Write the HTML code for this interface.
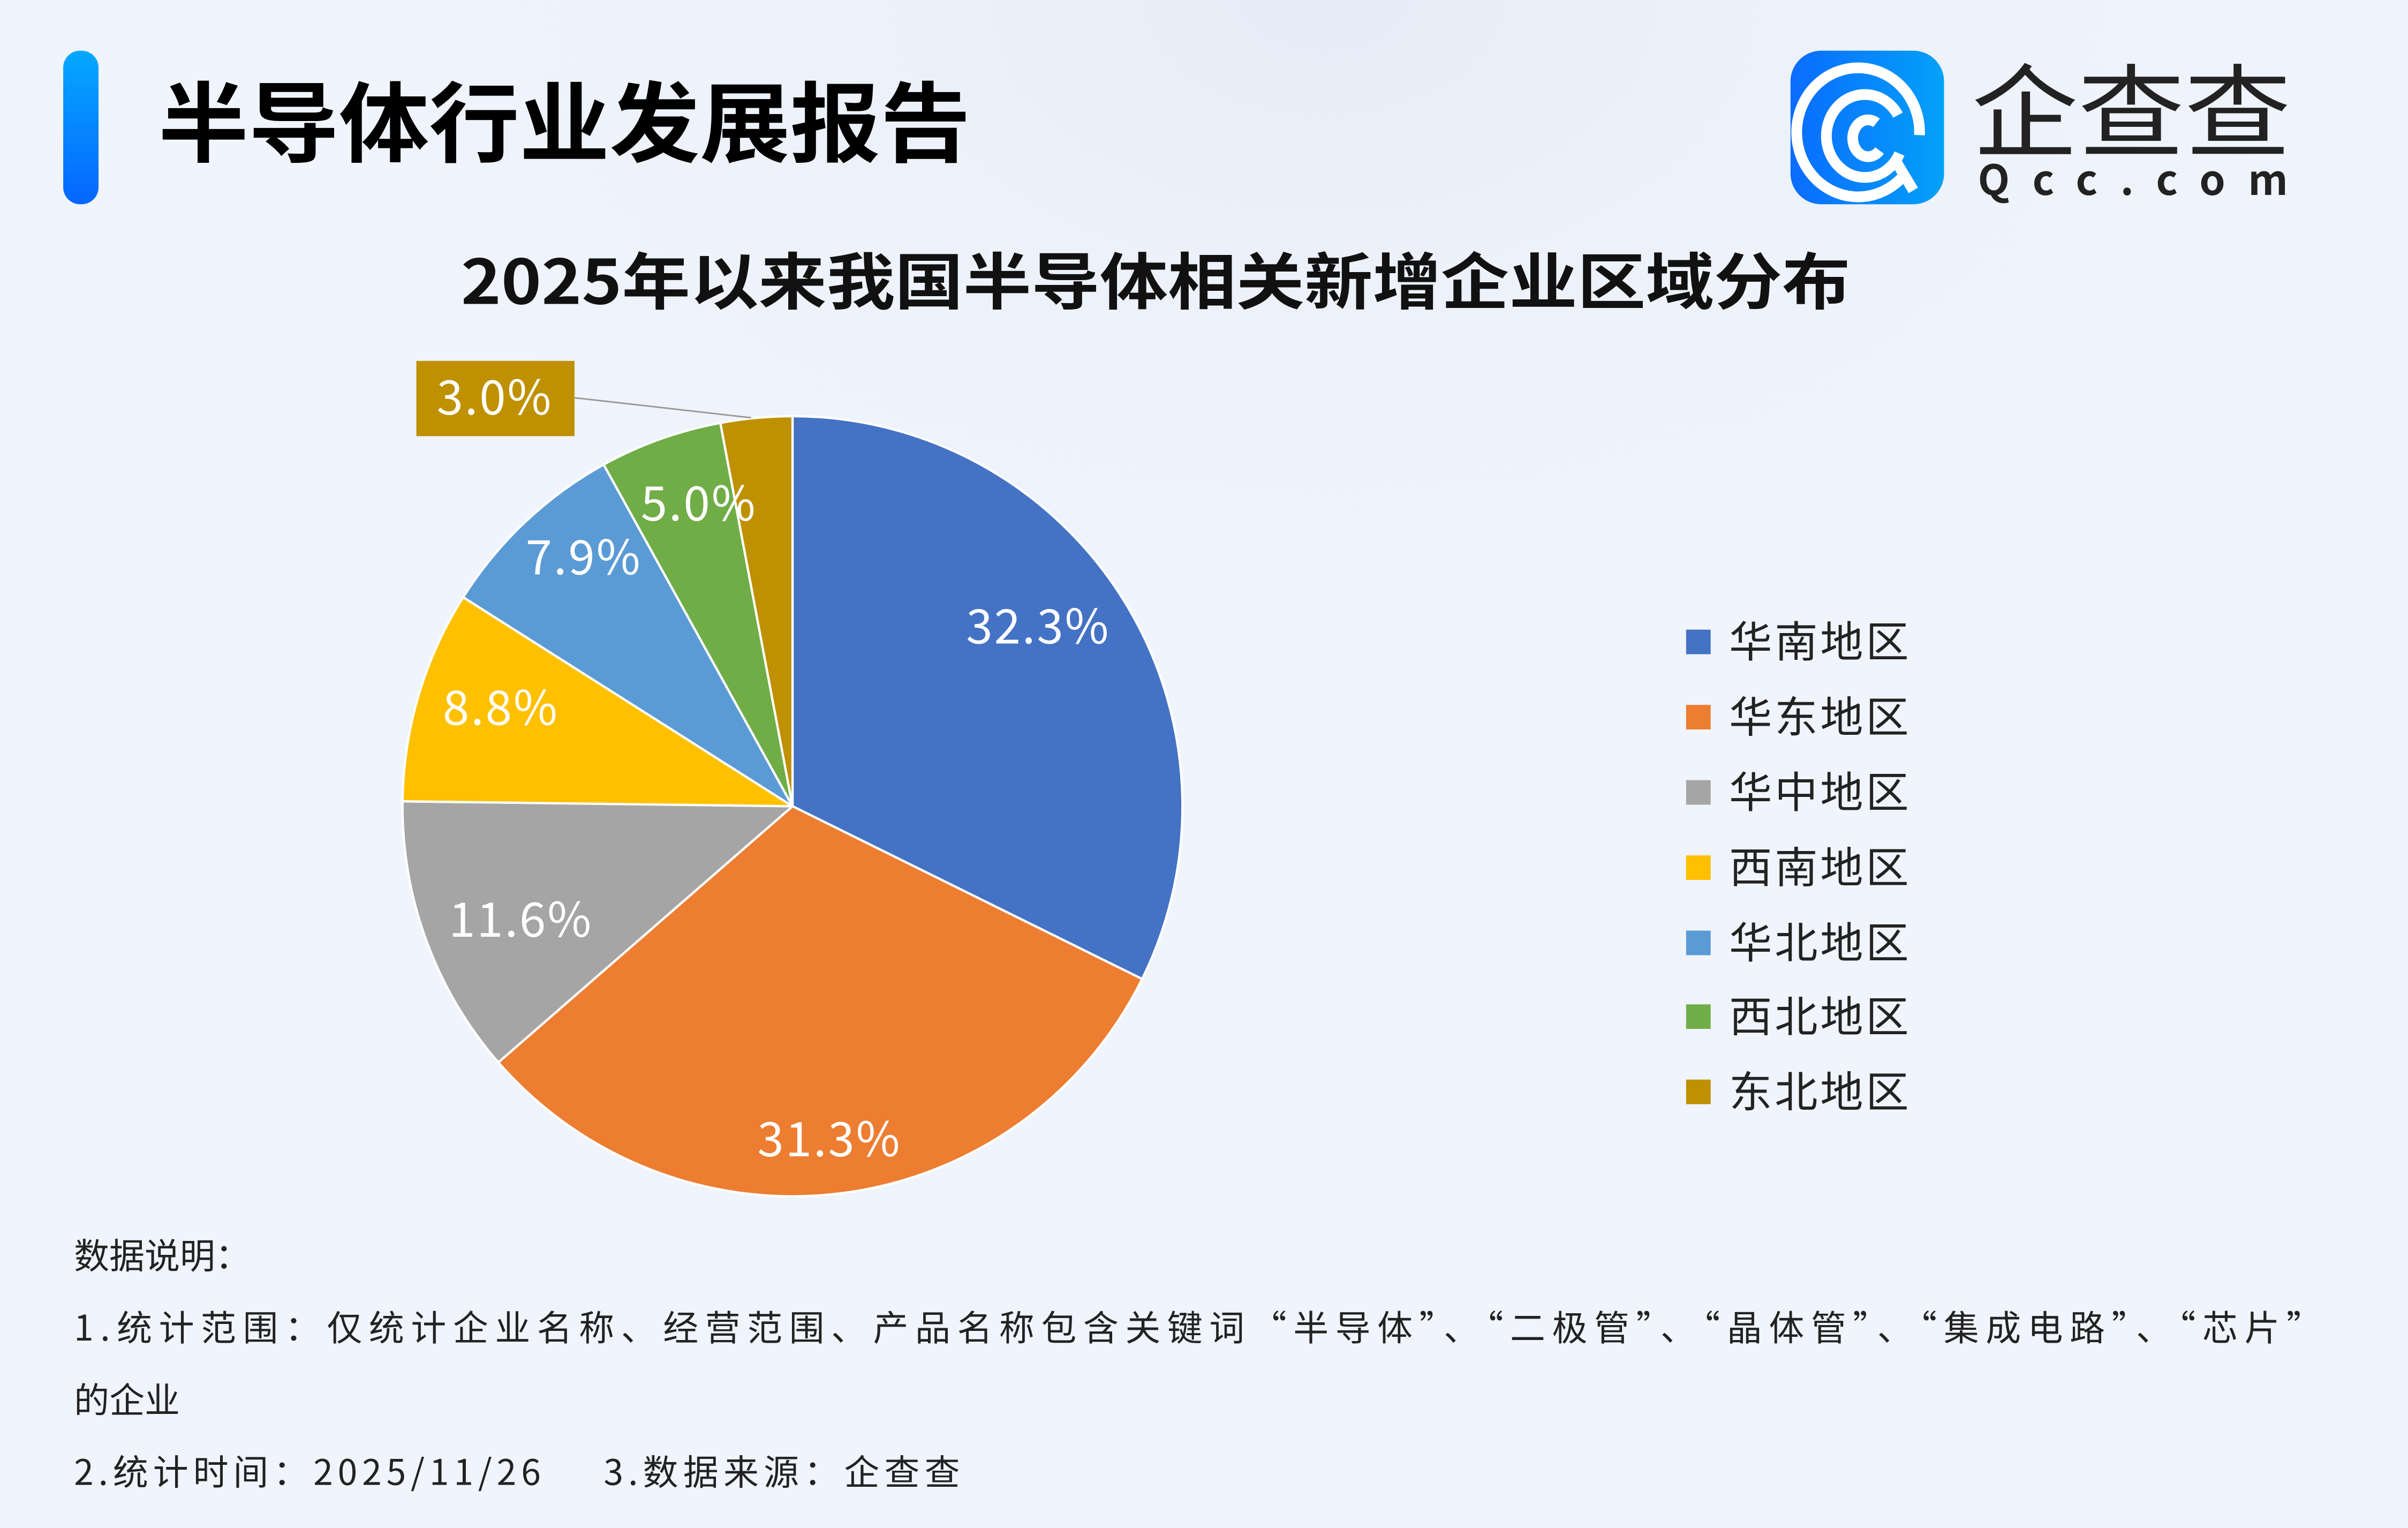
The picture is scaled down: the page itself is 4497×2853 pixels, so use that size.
<!DOCTYPE html>
<html><head><meta charset="utf-8"><style>
html,body{margin:0;padding:0;width:4497px;height:2853px;overflow:hidden;background:#eff4fc}
svg{display:block}
text{font-family:"Noto Sans CJK SC","Liberation Sans",sans-serif}
</style></head><body>
<svg width="4497" height="2853" viewBox="0 0 1568 995" xmlns="http://www.w3.org/2000/svg">
<defs>
<linearGradient id="bar" x1="0" y1="0" x2="0" y2="1"><stop offset="0" stop-color="#05a8ff"/><stop offset="1" stop-color="#0566ff"/></linearGradient>
<linearGradient id="logo" x1="0" y1="0" x2="1" y2="0"><stop offset="0" stop-color="#0a6cff"/><stop offset="1" stop-color="#03a1f8"/></linearGradient>
<radialGradient id="bg1" cx="0.55" cy="0.0" r="0.5"><stop offset="0" stop-color="#e6ecf7"/><stop offset="1" stop-color="#eff4fc" stop-opacity="0"/></radialGradient>
</defs>
<rect width="1568" height="995" fill="#f0f4fc"/>
<rect width="1568" height="995" fill="url(#bg1)"/>
<rect x="41" y="33" width="23" height="100" rx="11" fill="url(#bar)"/>
<text x="103" y="101" font-size="57" font-weight="bold" fill="#000" textLength="529" lengthAdjust="spacingAndGlyphs">半导体行业发展报告</text>
<rect x="1166" y="33" width="100" height="100" rx="20" fill="url(#logo)"/>
<g fill="none" stroke="#fff" stroke-width="7" stroke-linecap="butt">
<path d="M1240 114 A40 42 0 1 1 1250 88"/>
<path d="M1236 75 A25 27 0 1 0 1237 100"/>
<path d="M1222 80 A10 12 0 1 0 1224 98"/>
<path d="M1234 104 L1246 124"/>
</g>
<text x="1284" y="97" font-size="66" fill="#222" textLength="208" lengthAdjust="spacingAndGlyphs">企查查</text>
<text x="1288" y="127" font-size="27" fill="#222" font-weight="bold" textLength="202">Qcc.com</text>
<text x="300" y="198" font-size="40" font-weight="bold" fill="#111" textLength="905" lengthAdjust="spacingAndGlyphs">2025年以来我国半导体相关新增企业区域分布</text>
<g stroke="#fff" stroke-width="1.5" stroke-linejoin="round">
<path d="M516 525 L516 271 A254 254 0 0 1 743.7 637.5 Z" fill="#4472C4"/>
<path d="M516 525 L743.7 637.5 A254 254 0 0 1 324.4 691.8 Z" fill="#ED7D31"/>
<path d="M516 525 L324.4 691.8 A254 254 0 0 1 262 521.8 Z" fill="#A5A5A5"/>
<path d="M516 525 L262 521.8 A254 254 0 0 1 301.5 388.9 Z" fill="#FFC000"/>
<path d="M516 525 L301.5 388.9 A254 254 0 0 1 393 302.5 Z" fill="#5B9BD5"/>
<path d="M516 525 L393 302.5 A254 254 0 0 1 469 275.4 Z" fill="#70AD47"/>
<path d="M516 525 L469 275.4 A254 254 0 0 1 516 271 Z" fill="#BF9000"/>
</g>
<g font-size="31" fill="#fff" text-anchor="middle" letter-spacing="1">
<text x="676" y="419">32.3%</text>
<text x="540" y="753">31.3%</text>
<text x="339" y="610">11.6%</text>
<text x="326" y="472">8.8%</text>
<text x="380" y="374">7.9%</text>
<text x="455" y="339">5.0%</text>
</g>
<line x1="374" y1="259" x2="489" y2="272" stroke="#999" stroke-width="1"/>
<rect x="271" y="235" width="103" height="49" fill="#BF9000"/>
<text x="322" y="270" font-size="31" fill="#fff" text-anchor="middle" letter-spacing="1">3.0%</text>
<g font-size="28" fill="#222">
<rect x="1098" y="410" width="16" height="16" fill="#4472C4"/><text x="1126" y="428" textLength="117">华南地区</text>
<rect x="1098" y="459" width="16" height="16" fill="#ED7D31"/><text x="1126" y="477" textLength="117">华东地区</text>
<rect x="1098" y="508" width="16" height="16" fill="#A5A5A5"/><text x="1126" y="526" textLength="117">华中地区</text>
<rect x="1098" y="557" width="16" height="16" fill="#FFC000"/><text x="1126" y="575" textLength="117">西南地区</text>
<rect x="1098" y="606" width="16" height="16" fill="#5B9BD5"/><text x="1126" y="624" textLength="117">华北地区</text>
<rect x="1098" y="654" width="16" height="16" fill="#70AD47"/><text x="1126" y="672" textLength="117">西北地区</text>
<rect x="1098" y="703" width="16" height="16" fill="#BF9000"/><text x="1126" y="721" textLength="117">东北地区</text>
</g>
<g font-size="23" fill="#222">
<text x="48" y="826">数据说明：</text>
<text x="48" y="873" textLength="1464" lengthAdjust="spacing">1.统计范围：仅统计企业名称、经营范围、产品名称包含关键词“半导体”、“二极管”、“晶体管”、“集成电路”、“芯片”</text>
<text x="48" y="920">的企业</text>
<text x="48" y="967" textLength="304">2.统计时间：2025/11/26</text>
<text x="393" y="967" textLength="232">3.数据来源：企查查</text>
</g>
</svg>
</body></html>
